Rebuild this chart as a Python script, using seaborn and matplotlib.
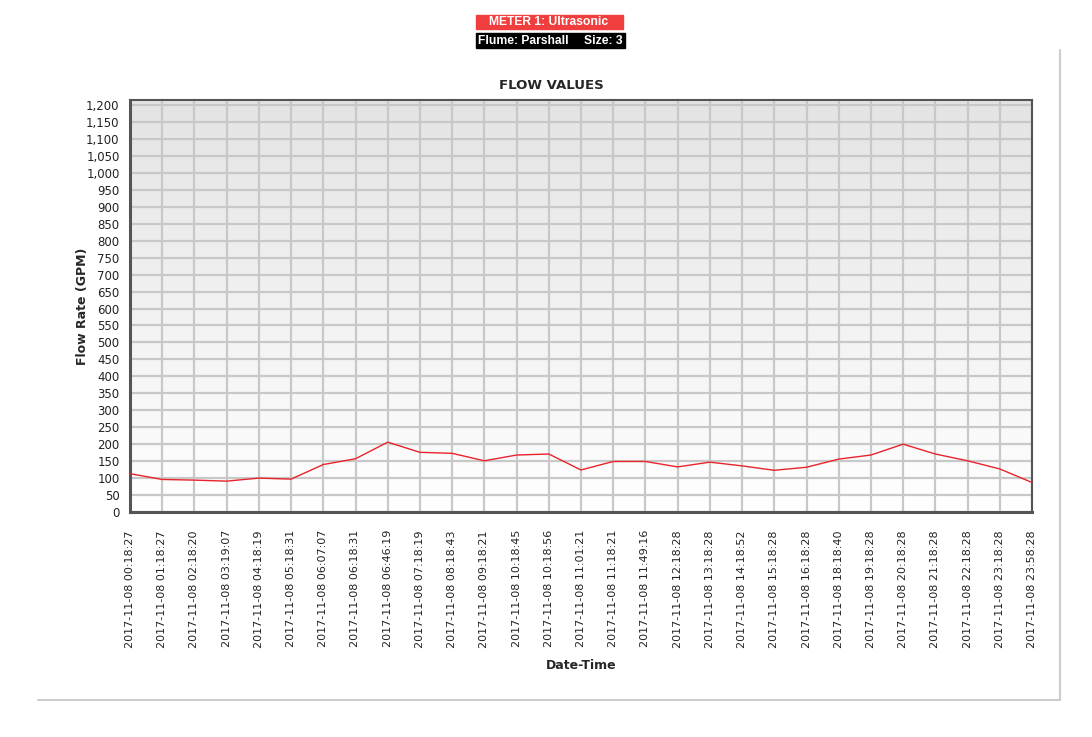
import numpy as np
import pandas as pd
import matplotlib
matplotlib.use("Agg")
import matplotlib.pyplot as plt
from matplotlib.colors import LinearSegmentedColormap
from matplotlib.ticker import MultipleLocator, FuncFormatter
import seaborn as sns

# ---- data ----
times = [
    "2017-11-08 00:18:27", "2017-11-08 01:18:27", "2017-11-08 02:18:20",
    "2017-11-08 03:19:07", "2017-11-08 04:18:19", "2017-11-08 05:18:31",
    "2017-11-08 06:07:07", "2017-11-08 06:18:31", "2017-11-08 06:46:19",
    "2017-11-08 07:18:19", "2017-11-08 08:18:43", "2017-11-08 09:18:21",
    "2017-11-08 10:18:45", "2017-11-08 10:18:56", "2017-11-08 11:01:21",
    "2017-11-08 11:18:21", "2017-11-08 11:49:16", "2017-11-08 12:18:28",
    "2017-11-08 13:18:28", "2017-11-08 14:18:52", "2017-11-08 15:18:28",
    "2017-11-08 16:18:28", "2017-11-08 18:18:40", "2017-11-08 19:18:28",
    "2017-11-08 20:18:28", "2017-11-08 21:18:28", "2017-11-08 22:18:28",
    "2017-11-08 23:18:28", "2017-11-08 23:58:28",
]
flow = [113, 96, 94, 91, 100, 97, 140, 157, 206, 176, 173, 151, 168, 171, 124,
        149, 149, 133, 147, 136, 123, 132, 156, 168, 200, 171, 151, 127, 87]

df = pd.DataFrame({"pos": range(len(times)), "time": times, "flow": flow})

sns.set_style("white")
plt.rcParams["font.family"] = ["DejaVu Sans"]

fig = plt.figure(figsize=(10.92, 7.37), dpi=100)
ax = fig.add_axes([130 / 1092, 1 - 512 / 737, 902 / 1092, 412 / 737])

ymax = 1215
xmax = len(times) - 1

# gradient background: grey at top fading to white at bottom
cmap = LinearSegmentedColormap.from_list("bg", ["#e4e4e4", "#ffffff"])
grad = np.linspace(0, 1, 256).reshape(-1, 1)
ax.imshow(grad, extent=[0, xmax, 0, ymax], aspect="auto", cmap=cmap,
          zorder=0.1, origin="upper")

sns.lineplot(data=df, x="pos", y="flow", color="#e8232c", linewidth=1.0,
             ax=ax, zorder=3)

ax.set_xlim(0, xmax)
ax.set_ylim(0, ymax)
ax.set_xticks(df["pos"])
ax.set_xticklabels(times, rotation=90, fontsize=8, color="#222222")
ax.xaxis.set_minor_locator(MultipleLocator(0.25))
ax.yaxis.set_major_locator(MultipleLocator(50))
ax.yaxis.set_minor_locator(MultipleLocator(10))
ax.yaxis.set_major_formatter(FuncFormatter(lambda v, p: f"{int(v):,}"))
ax.tick_params(axis="y", labelsize=8.5, colors="#222222")
ax.tick_params(which="major", length=4, width=0.8, color="#888888", direction="out")
ax.tick_params(which="minor", length=2, width=0.6, color="#aaaaaa", direction="out")
ax.tick_params(axis="x", which="major", pad=9)

ax.set_axisbelow(True)
ax.grid(True, which="major", color="#c8c8c8", linewidth=1.6)

for s in ax.spines.values():
    s.set_color("#555555")
    s.set_linewidth(1.5)
ax.spines["left"].set_linewidth(2.2)
ax.spines["bottom"].set_linewidth(2.2)

ax.set_xlabel("Date-Time", fontsize=9, fontweight="bold", labelpad=8)
ax.set_ylabel("Flow Rate (GPM)", fontsize=9, fontweight="bold", labelpad=-2)
ax.set_title("FLOW VALUES", fontsize=9.5, fontweight="bold", pad=8, x=(551 - 130) / 902)

# header boxes
hdr_font = ["Liberation Sans", "DejaVu Sans"]
fig.patches.append(plt.Rectangle((476 / 1092, 1 - 29 / 737), 147 / 1092, 14 / 737,
                                 transform=fig.transFigure, color="#f03e3e"))
fig.patches.append(plt.Rectangle((476 / 1092, 1 - 48 / 737), 149 / 1092, 15 / 737,
                                 transform=fig.transFigure, color="#000000"))
fig.text(549 / 1092, 1 - 22 / 737, "METER 1: Ultrasonic", color="white",
         fontsize=8.7, fontweight="bold", ha="center", va="center", family=hdr_font)
fig.text(478 / 1092, 1 - 40.5 / 737, "Flume: Parshall", color="white",
         fontsize=8.7, fontweight="bold", ha="left", va="center", family=hdr_font)
fig.text(623 / 1092, 1 - 40.5 / 737, "Size: 3", color="white",
         fontsize=8.7, fontweight="bold", ha="right", va="center", family=hdr_font)

# outer frame
fig.add_artist(plt.Line2D([1060 / 1092, 1060 / 1092], [1 - 50 / 737, 1 - 700 / 737],
                          transform=fig.transFigure, color="#cccccc", linewidth=1.5))
fig.add_artist(plt.Line2D([38 / 1092, 1060 / 1092], [1 - 700 / 737, 1 - 700 / 737],
                          transform=fig.transFigure, color="#cccccc", linewidth=1.5))

fig.savefig("out.png", dpi=100)
